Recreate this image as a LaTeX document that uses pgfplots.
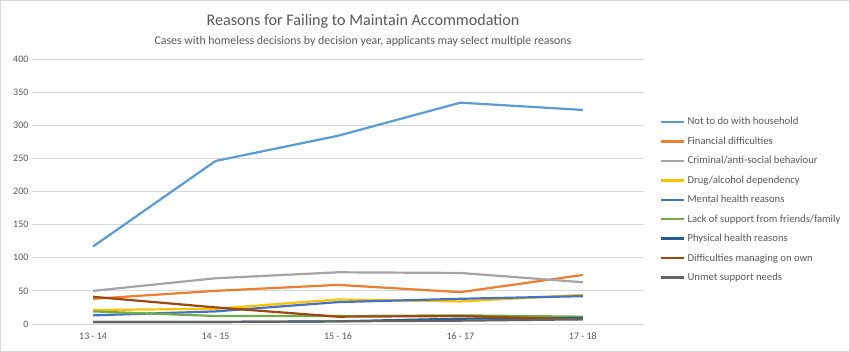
\documentclass[border=0pt]{standalone}
\usepackage{pgfplots}
\pgfplotsset{compat=1.18}
\usepackage{fontspec}
\setmainfont{Carlito}
\definecolor{txt}{HTML}{595959}
\definecolor{grd}{HTML}{D9D9D9}
\definecolor{c1}{HTML}{5B9BD5}
\definecolor{c2}{HTML}{ED7D31}
\definecolor{c3}{HTML}{A5A5A5}
\definecolor{c4}{HTML}{FFC000}
\definecolor{c5}{HTML}{4472C4}
\definecolor{c6}{HTML}{70AD47}
\definecolor{c7}{HTML}{255E91}
\definecolor{c8}{HTML}{9E480E}
\definecolor{c9}{HTML}{636363}
\begin{document}
\begin{tikzpicture}[x=1bp,y=1bp]
\path[draw=grd,line width=0.8bp] (0.5,0.5) rectangle (849.5,351.5);
\node[txt,font=\fontsize{16.2}{18}\selectfont] at (363,330.5) {Reasons for Failing to Maintain Accommodation};
\node[txt,font=\fontsize{11.9}{14}\selectfont] at (363,310.5) {Cases with homeless decisions by decision year, applicants may select multiple reasons};
\begin{axis}[
  at={(32bp,28bp)}, anchor=south west,
  scale only axis, width=612bp, height=265bp,
  xmin=-0.5, xmax=4.5, ymin=0, ymax=400,
  xtick={0,1,2,3,4},
  xticklabels={13 - 14,14 - 15,15 - 16,16 - 17,17 - 18},
  ytick={0,50,...,400},
  ymajorgrids, grid style={grd, line width=0.8bp},
  axis line style={draw=none},
  major tick length=0pt,
  tick label style={txt, font=\fontsize{10}{11}\selectfont},
  xticklabel style={yshift=-5.5bp},
  /pgf/number format/assume math mode=true,
  legend style={at={(1.026,0.787)}, anchor=north west, draw=none, fill=none,
    font=\fontsize{10.7}{12}\selectfont, text=txt, row sep=6.55bp,
    legend cell align=left, inner sep=0pt},
  legend image code/.code={\draw[#1, line width=2.4bp] (0,0) -- (23bp,0);},
  every axis plot/.append style={line width=2.2bp, line join=round},
  clip=false,
]
\addplot[c1] coordinates {(0,117) (1,246) (2,284) (3,334) (4,323)};
\addlegendentry{Not to do with household}
\addplot[c2] coordinates {(0,38) (1,50) (2,59) (3,48) (4,74)};
\addlegendentry{Financial difficulties}
\addplot[c3] coordinates {(0,50) (1,69) (2,78) (3,77) (4,63)};
\addlegendentry{Criminal/anti-social behaviour}
\addplot[c4] coordinates {(0,21) (1,23) (2,37) (3,34) (4,44)};
\addlegendentry{Drug/alcohol dependency}
\addplot[c5] coordinates {(0,13) (1,19) (2,33) (3,38) (4,42)};
\addlegendentry{Mental health reasons}
\addplot[c6] coordinates {(0,19) (1,12) (2,12) (3,13) (4,11)};
\addlegendentry{Lack of support from friends/family}
\addplot[c7] coordinates {(0,3) (1,3) (2,4) (3,8) (4,9)};
\addlegendentry{Physical health reasons}
\addplot[c8] coordinates {(0,41) (1,25) (2,11) (3,12) (4,7)};
\addlegendentry{Difficulties managing on own}
\addplot[c9] coordinates {(0,3) (1,3) (2,4) (3,5) (4,7)};
\addlegendentry{Unmet support needs}
\end{axis}
\end{tikzpicture}
\end{document}
